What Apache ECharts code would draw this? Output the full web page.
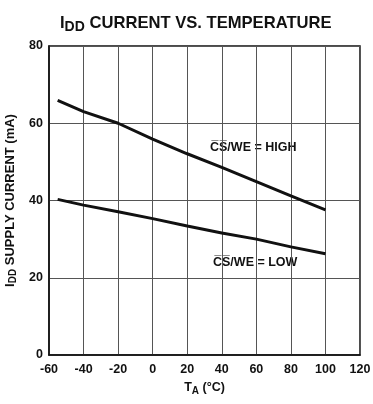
<!DOCTYPE html>
<html><head><meta charset="utf-8">
<script src="https://cdn.jsdelivr.net/npm/echarts@6/dist/echarts.min.js"></script>
<style>html,body{margin:0;padding:0;background:#fff}#c{width:373px;height:404px}</style>
</head><body><div id="c"></div>
<script>
const temps = [-55, -40, -20, 0, 20, 40, 60, 80, 100];
const highCurrent = [65.9, 63.0, 60.0, 55.9, 52.1, 48.6, 44.9, 41.2, 37.6];
const lowCurrent = [40.3, 38.8, 37.1, 35.3, 33.4, 31.6, 30.0, 28.0, 26.2];
const xTicks = [-60, -40, -20, 0, 20, 40, 60, 80, 100, 120];
const yTicks = [0, 20, 40, 60, 80];

const F = '"Liberation Sans", Arial, Helvetica, sans-serif';
const ink = '#111';
const chart = echarts.init(document.getElementById('c'));
const pair = (xs, ys) => xs.map((x, i) => [x, ys[i]]);
chart.setOption({
  animation: false,
  backgroundColor: '#fff',
  title: {
    text: '{a|I}{s|DD}{a| CURRENT VS. TEMPERATURE}',
    left: 55, top: 7,
    textStyle: {
      rich: {
        a: {fontFamily: F, fontWeight: 'bold', fontSize: 16.6, color: ink},
        s: {fontFamily: F, fontWeight: 'bold', fontSize: 14, color: ink, padding: [8, 0, 0, 0]}
      }
    }
  },
  grid: {left: 49, right: 13, top: 46, bottom: 49, show: true, borderColor: ink, borderWidth: 1.5,
         containLabel: false, outerBoundsMode: 'none'},
  xAxis: {
    type: 'value', min: -60, max: 120, interval: 20,
    axisLine: {lineStyle: {color: ink, width: 1.5}},
    axisTick: {show: false},
    axisLabel: {color: ink, fontFamily: F, fontWeight: 'bold', fontSize: 12.5, margin: 8},
    splitLine: {show: true, lineStyle: {color: '#555', width: 1}},
    name: '{a|T}{s|A}{a| (°C)}', nameLocation: 'middle', nameGap: 25,
    nameTextStyle: {rich: {
      a: {fontFamily: F, fontWeight: 'bold', fontSize: 12.5, color: ink},
      s: {fontFamily: F, fontWeight: 'bold', fontSize: 10, color: ink, padding: [6, 0, 0, 0]}
    }}
  },
  yAxis: {
    type: 'value', min: 0, max: 80, interval: 20,
    axisLine: {show: true, onZero: false, lineStyle: {color: ink, width: 1.5}},
    axisTick: {show: false},
    axisLabel: {color: ink, fontFamily: F, fontWeight: 'bold', fontSize: 12.5, margin: 6},
    splitLine: {show: true, lineStyle: {color: '#555', width: 1}},
    name: '{a|I}{s|DD}{a| SUPPLY CURRENT (mA)}', nameLocation: 'middle', nameGap: 27, nameRotate: 90,
    nameTextStyle: {rich: {
      a: {fontFamily: F, fontWeight: 'bold', fontSize: 13, color: ink},
      s: {fontFamily: F, fontWeight: 'bold', fontSize: 10, color: ink, padding: [6, 0, 0, 0]}
    }}
  },
  series: [
    {type: 'line', data: pair(temps, highCurrent), symbol: 'none',
     lineStyle: {color: ink, width: 3}},
    {type: 'line', data: pair(temps, lowCurrent), symbol: 'none',
     lineStyle: {color: ink, width: 3}}
  ],
  graphic: [
    {type: 'text', left: 210, top: 141, style: {text: 'C\u0305S\u0305/WE = HIGH', font: 'bold 12.5px ' + F, fill: ink}},
    {type: 'text', left: 213, top: 256, style: {text: 'C\u0305S\u0305/WE = LOW', font: 'bold 12.5px ' + F, fill: ink}}
  ]
});
</script></body></html>
